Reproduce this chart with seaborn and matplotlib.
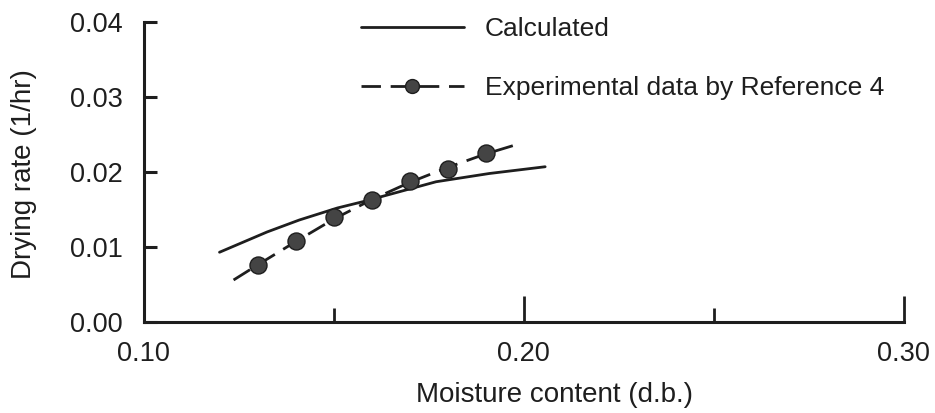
import matplotlib
matplotlib.use("Agg")
import matplotlib.pyplot as plt
from matplotlib.lines import Line2D
import seaborn as sns
import pandas as pd

# ---- data ----
calc_x = [0.120, 0.1325, 0.141, 0.151, 0.159, 0.1625, 0.177, 0.191, 0.2057]
calc_y = [0.0093, 0.0120, 0.0136, 0.0152, 0.0162, 0.0167, 0.0187, 0.0198, 0.0207]

exp_x = [0.13, 0.14, 0.15, 0.16, 0.17, 0.18, 0.19]
exp_y = [0.0076, 0.0108, 0.0140, 0.0163, 0.0188, 0.0204, 0.0225]

fit_x = [0.1237, 0.13, 0.14, 0.15, 0.16, 0.17, 0.18, 0.19, 0.1991]
fit_y = [0.0056, 0.0076, 0.0107, 0.0137, 0.0163, 0.0186, 0.0206, 0.0224, 0.0238]

x_major = [0.10, 0.20, 0.30]
x_minor = [0.15, 0.25]
x_labels = ["0.10", "0.20", "0.30"]
y_ticks = [0.00, 0.01, 0.02, 0.03, 0.04]
y_labels = ["0.00", "0.01", "0.02", "0.03", "0.04"]

legend_labels = ["Calculated", "Experimental data by Reference 4"]
x_title = "Moisture content (d.b.)"
y_title = "Drying rate (1/hr)"

# ---- styling ----
sns.set_style("ticks")
plt.rcParams["font.family"] = ["Liberation Sans", "DejaVu Sans"]
ink = "#1e1e1e"
dash = (0, (7, 3.5))

fig = plt.figure(figsize=(9.35, 4.13), dpi=100)
ax = fig.add_axes([143.5 / 935, 91 / 413, 760 / 935, 300 / 413])

calc_df = pd.DataFrame({"x": calc_x, "y": calc_y})
fit_df = pd.DataFrame({"x": fit_x, "y": fit_y})
exp_df = pd.DataFrame({"x": exp_x, "y": exp_y})

sns.lineplot(data=calc_df, x="x", y="y", ax=ax, color=ink, lw=2.0,
             sort=False, estimator=None)
sns.lineplot(data=fit_df, x="x", y="y", ax=ax, color=ink, lw=2.0,
             sort=False, estimator=None, linestyle=dash)
sns.scatterplot(data=exp_df, x="x", y="y", ax=ax, s=150, color="#444444",
                edgecolor="#1e1e1e", linewidth=1.0, zorder=5)

ax.set_xlim(0.10, 0.30)
ax.set_ylim(0.0, 0.04)
ax.set_xticks(x_major)
ax.set_xticklabels(x_labels)
ax.set_xticks(x_minor, minor=True)
ax.set_yticks(y_ticks)
ax.set_yticklabels(y_labels)

for s in ["top", "right"]:
    ax.spines[s].set_visible(False)
for s in ["left", "bottom"]:
    ax.spines[s].set_linewidth(2.2)
    ax.spines[s].set_color(ink)

ax.tick_params(axis="x", which="major", direction="in", length=19, width=2.0,
               color=ink, pad=14, labelsize=19.5, labelcolor=ink)
ax.tick_params(axis="x", which="minor", direction="in", length=10, width=2.0,
               color=ink)
ax.tick_params(axis="y", which="major", direction="in", length=9.5, width=2.2,
               color=ink, pad=15, labelsize=19.5, labelcolor=ink)

ax.set_xlabel(x_title, fontsize=20, color=ink)
ax.xaxis.set_label_coords((555 - 143.5) / 760, -(395 - 322) / 300)
ax.xaxis.label.set_va("center")
ax.set_ylabel(y_title, fontsize=20, color=ink)
ax.yaxis.set_label_coords(-(143.5 - 24) / 760, (322 - 174) / 300)
ax.yaxis.label.set_va("center")

handles = [
    Line2D([], [], color=ink, lw=2.0),
    Line2D([], [], color=ink, lw=2.0, linestyle=dash, marker="o",
           markersize=10, markerfacecolor="#444444", markeredgecolor="#1e1e1e"),
]
ax.legend(handles, legend_labels, loc="upper left",
          bbox_to_anchor=(361 / 935, 1 - 17 / 413), bbox_transform=fig.transFigure,
          frameon=False, fontsize=19, handlelength=3.9, handletextpad=0.8,
          labelspacing=1.33, borderpad=0, borderaxespad=0, labelcolor=ink)

fig.savefig("out.png", dpi=100)
